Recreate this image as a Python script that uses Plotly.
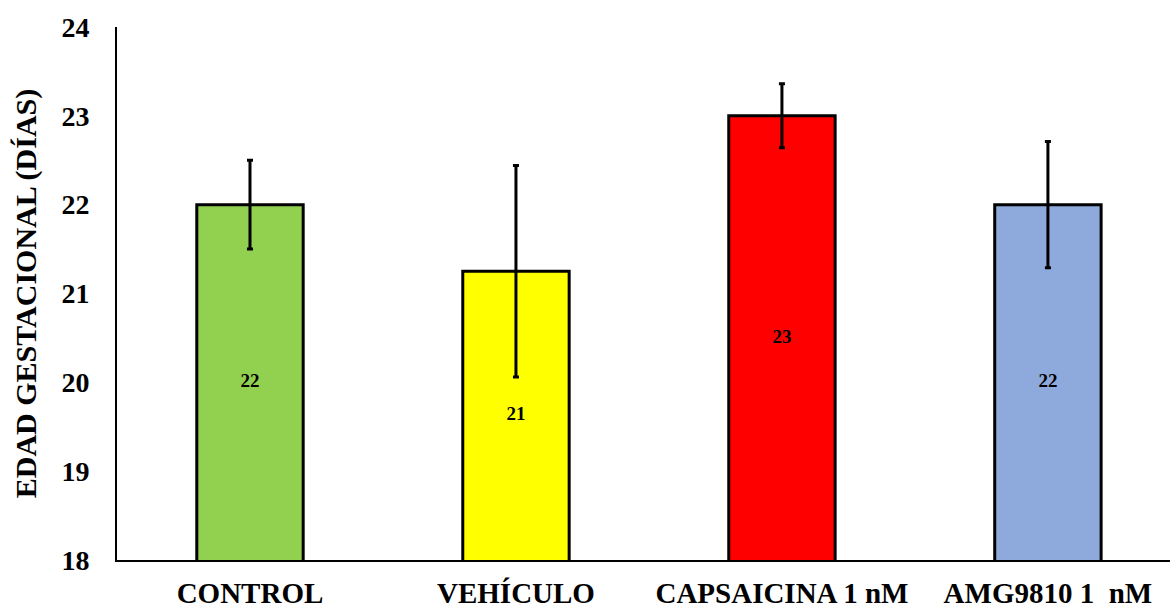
import plotly.graph_objects as go

categories = ["CONTROL", "VEHÍCULO", "CAPSAICINA 1 nM", "AMG9810 1  nM"]
values = [22.0, 21.25, 23.0, 22.0]
errors = [0.5, 1.19, 0.36, 0.71]
colors = ["#92D050", "#FFFF00", "#FF0000", "#8EA9DB"]
y_ticks = [18, 19, 20, 21, 22, 23, 24]
y_min, y_max = 18, 24

font_family = "Liberation Serif, Times New Roman, serif"

fig = go.Figure()
fig.add_trace(go.Bar(
    x=list(range(len(categories))),
    y=values,
    width=0.4,
    marker=dict(color=colors, line=dict(color="black", width=3)),
    error_y=dict(type="data", array=errors, visible=True, color="black",
                 thickness=3, width=3),
    hoverinfo="y",
))
fig.add_trace(go.Scatter(
    x=list(range(len(categories))),
    y=[(v + y_min) / 2 for v in values],
    mode="text",
    text=[f"{round(v):d}" for v in values],
    textfont=dict(family=font_family, size=19, color="black", weight="bold"),
    hoverinfo="skip",
))

fig.update_layout(
    width=1170, height=609,
    margin=dict(l=117, r=0, t=27, b=49, autoexpand=False),
    paper_bgcolor="white", plot_bgcolor="white",
    showlegend=False,
    font=dict(family=font_family, color="black"),
    xaxis=dict(
        range=[-0.5, 3.459],
        tickvals=list(range(len(categories))),
        ticktext=categories,
        tickfont=dict(family=font_family, size=29, color="black", weight="bold"),
        showline=True, linecolor="black", linewidth=2,
        showgrid=False, zeroline=False, ticks="",
        ticklabelstandoff=6, automargin=False,
    ),
    yaxis=dict(
        range=[y_min, y_max],
        tickvals=y_ticks,
        tickfont=dict(family=font_family, size=28, color="black", weight="bold"),
        showline=True, linecolor="black", linewidth=2,
        showgrid=False, zeroline=False, ticks="",
        ticklabelstandoff=20, automargin=False,
        title=dict(text="EDAD GESTACIONAL (DÍAS)",
                   font=dict(family=font_family, size=30, color="black", weight="bold"),
                   standoff=16),
    ),
)

fig.write_html("out.html",
               config={"displayModeBar": False},
               post_script="document.body.style.margin='0';document.body.style.overflow='hidden';")
